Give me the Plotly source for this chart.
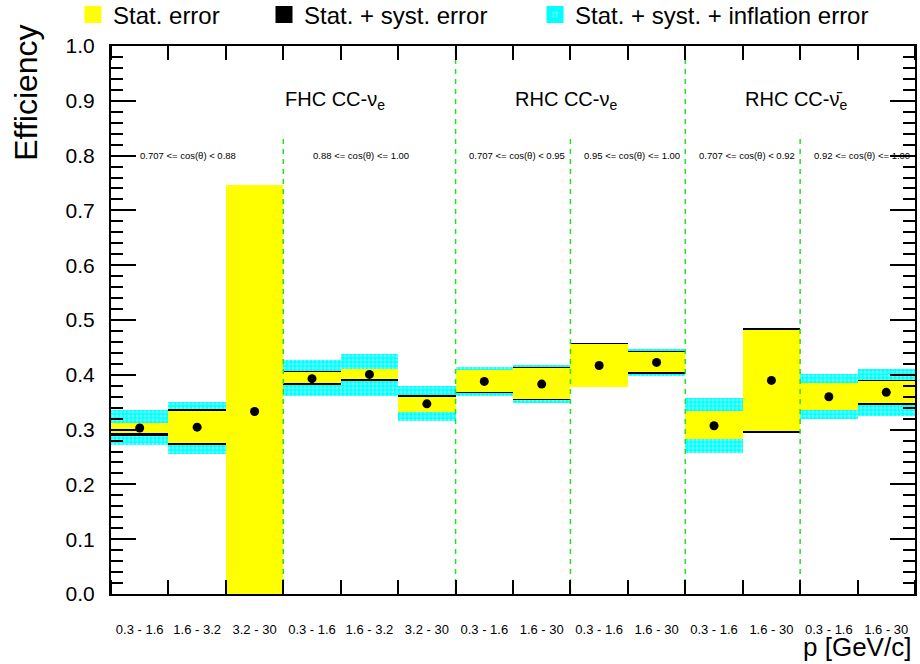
import plotly.graph_objects as go

# ---------------- data ----------------
p_bins = ["0.3 - 1.6", "1.6 - 3.2", "3.2 - 30",
          "0.3 - 1.6", "1.6 - 3.2", "3.2 - 30",
          "0.3 - 1.6", "1.6 - 30",
          "0.3 - 1.6", "1.6 - 30",
          "0.3 - 1.6", "1.6 - 30",
          "0.3 - 1.6", "1.6 - 30"]
efficiency = [0.303, 0.3045, 0.333, 0.393, 0.4007, 0.347, 0.388, 0.383,
              0.417, 0.4226, 0.307, 0.3897, 0.360, 0.368]
stat_lo = [0.293, 0.276, 0.000, 0.385, 0.392, 0.333, 0.3695, 0.3556,
           0.377, 0.4043, 0.2826, 0.2966, 0.335, 0.348]
stat_hi = [0.3125, 0.334, 0.747, 0.405, 0.410, 0.359, 0.409, 0.4116,
           0.4555, 0.4408, 0.3337, 0.4823, 0.385, 0.388]
syst_lo = [0.289, 0.272, 0.000, 0.381, 0.389, 0.333, 0.3665, 0.3535,
           0.377, 0.4022, 0.2826, 0.2935, 0.335, 0.3455]
syst_hi = [0.3125, 0.337, 0.747, 0.407, 0.410, 0.3625, 0.409, 0.4138,
           0.458, 0.443, 0.3337, 0.4852, 0.385, 0.3905]
infl_lo = [0.271, 0.256, 0.000, 0.362, 0.362, 0.3155, 0.362, 0.348,
           0.377, 0.3976, 0.257, 0.2935, 0.3185, 0.3246]
infl_hi = [0.336, 0.351, 0.747, 0.4275, 0.4385, 0.379, 0.414, 0.4184,
           0.458, 0.4476, 0.358, 0.486, 0.402, 0.410]

region_names = ["FHC CC-\u03bd<sub>e</sub>", "RHC CC-\u03bd<sub>e</sub>",
                "RHC CC-\u03bd\u0304<sub>e</sub>"]
region_start = [3, 7, 11]
region_bounds = [6, 10]
cos_labels = ["0.707 <= cos(\u03b8) < 0.88", "0.88 <= cos(\u03b8) <= 1.00",
              "0.707 <= cos(\u03b8) < 0.95", "0.95 <= cos(\u03b8) <= 1.00",
              "0.707 <= cos(\u03b8) < 0.92", "0.92 <= cos(\u03b8) <= 1.00"]
cos_label_x = [0.47, 3.48, 6.2, 8.2, 10.2, 12.2]
cos_bounds = [3, 8, 12]

n = len(p_bins)
xc = [i + 0.5 for i in range(n)]
FONT = "Liberation Sans, Arial, sans-serif"

fig = go.Figure()

cyan_marker = dict(color="#00ffff",
                   pattern=dict(shape=".", fgcolor="#c8ffff", bgcolor="#00ffff",
                                size=4, solidity=0.45))

fig.add_trace(go.Bar(
    x=xc, y=[h - l for l, h in zip(infl_lo, infl_hi)], base=infl_lo, width=1,
    showlegend=False, marker=dict(line=dict(width=0), **cyan_marker),
    hoverinfo="skip"))
fig.add_trace(go.Bar(
    x=xc, y=[h - l for l, h in zip(syst_lo, syst_hi)], base=syst_lo, width=1,
    showlegend=False,
    marker=dict(color="#000000", line=dict(width=0)), hoverinfo="skip"))
fig.add_trace(go.Bar(
    x=xc, y=[h - l for l, h in zip(stat_lo, stat_hi)], base=stat_lo, width=1,
    showlegend=False,
    marker=dict(color="#ffff00", line=dict(width=0)), hoverinfo="skip"))

# legend entries (bigger symbols)
fig.add_trace(go.Bar(x=[None], y=[None], name="Stat. error", legend="legend",
                     marker=dict(color="#ffff00", line=dict(color="#ffff00", width=5))))
fig.add_trace(go.Bar(x=[None], y=[None], name="Stat. + syst. error", legend="legend2",
                     marker=dict(color="#000000", line=dict(color="#000000", width=5))))
fig.add_trace(go.Bar(x=[None], y=[None], name="Stat. + syst. + inflation error",
                     legend="legend3",
                     marker=dict(line=dict(color="#00ffff", width=5), **cyan_marker)))

# separators
for b in region_bounds:
    fig.add_trace(go.Scatter(x=[b, b], y=[0, 1], mode="lines", showlegend=False,
                             line=dict(color="#22e022", width=1.5, dash="5px,5px"),
                             hoverinfo="skip"))
for b in cos_bounds:
    fig.add_trace(go.Scatter(x=[b, b], y=[0, 0.84], mode="lines", showlegend=False,
                             line=dict(color="#22e022", width=1.5, dash="5px,5px"),
                             hoverinfo="skip"))

fig.add_trace(go.Scatter(x=xc, y=efficiency, mode="markers", showlegend=False,
                         marker=dict(color="black", size=9), hoverinfo="skip"))

for name, xs in zip(region_names, region_start):
    fig.add_annotation(x=xs, y=0.9, text=name, showarrow=False, xanchor="left",
                       yanchor="middle", font=dict(size=20, family=FONT, color="black"))
for lab, xs in zip(cos_labels, cos_label_x):
    fig.add_annotation(x=xs, y=0.8, text=lab, showarrow=False, xanchor="left",
                       yanchor="middle", font=dict(size=9.5, family=FONT, color="black"))

fig.add_annotation(xref="paper", yref="paper", x=-0.106, y=1.042, text="Efficiency",
                   textangle=-90, showarrow=False, xanchor="center", yanchor="top",
                   font=dict(size=32, family=FONT, color="black"))
fig.add_annotation(xref="paper", yref="paper", x=0.998, y=-0.097, text="p [GeV/c]",
                   showarrow=False, xanchor="right", yanchor="middle",
                   font=dict(size=26, family=FONT, color="black"))

leg_common = dict(orientation="h", xref="container", yref="container",
                  yanchor="middle", bgcolor="rgba(0,0,0,0)",
                  font=dict(size=24, family=FONT, color="black"))
fig.update_layout(
    width=920, height=664,
    margin=dict(l=111, r=5, t=46, b=70, autoexpand=False),
    paper_bgcolor="white", plot_bgcolor="white",
    barmode="overlay", bargap=0,
    font=dict(family=FONT, color="black"),
    legend=dict(x=73 / 920, y=1 - 15 / 664, **leg_common),
    legend2=dict(x=264 / 920, y=1 - 15 / 664, **leg_common),
    legend3=dict(x=535 / 920, y=1 - 15 / 664, **leg_common),
    xaxis=dict(range=[0, n], showgrid=False, zeroline=False,
               showline=True, linecolor="black", linewidth=2, mirror="allticks",
               tickmode="array", tickvals=xc, ticktext=p_bins, ticks="",
               tickfont=dict(size=13, family=FONT, color="black"),
               ticklabelstandoff=22,
               minor=dict(tickmode="array", tickvals=list(range(n + 1)),
                          ticks="inside", ticklen=14, tickcolor="black", tickwidth=1.5)),
    yaxis=dict(range=[0, 1], showgrid=False, zeroline=False,
               showline=True, linecolor="black", linewidth=2, mirror="allticks",
               tickmode="linear", tick0=0, dtick=0.1, tickformat=".1f",
               ticks="inside", ticklen=25, tickcolor="black", tickwidth=2,
               tickfont=dict(size=21, family=FONT, color="black"),
               ticklabelstandoff=10,
               minor=dict(dtick=0.02, ticks="inside", ticklen=12,
                          tickcolor="black", tickwidth=1.5)),
)

fig.write_html("out.html", config={"displayModeBar": False},
               post_script="document.body.style.margin='0';document.body.style.overflow='hidden';")
